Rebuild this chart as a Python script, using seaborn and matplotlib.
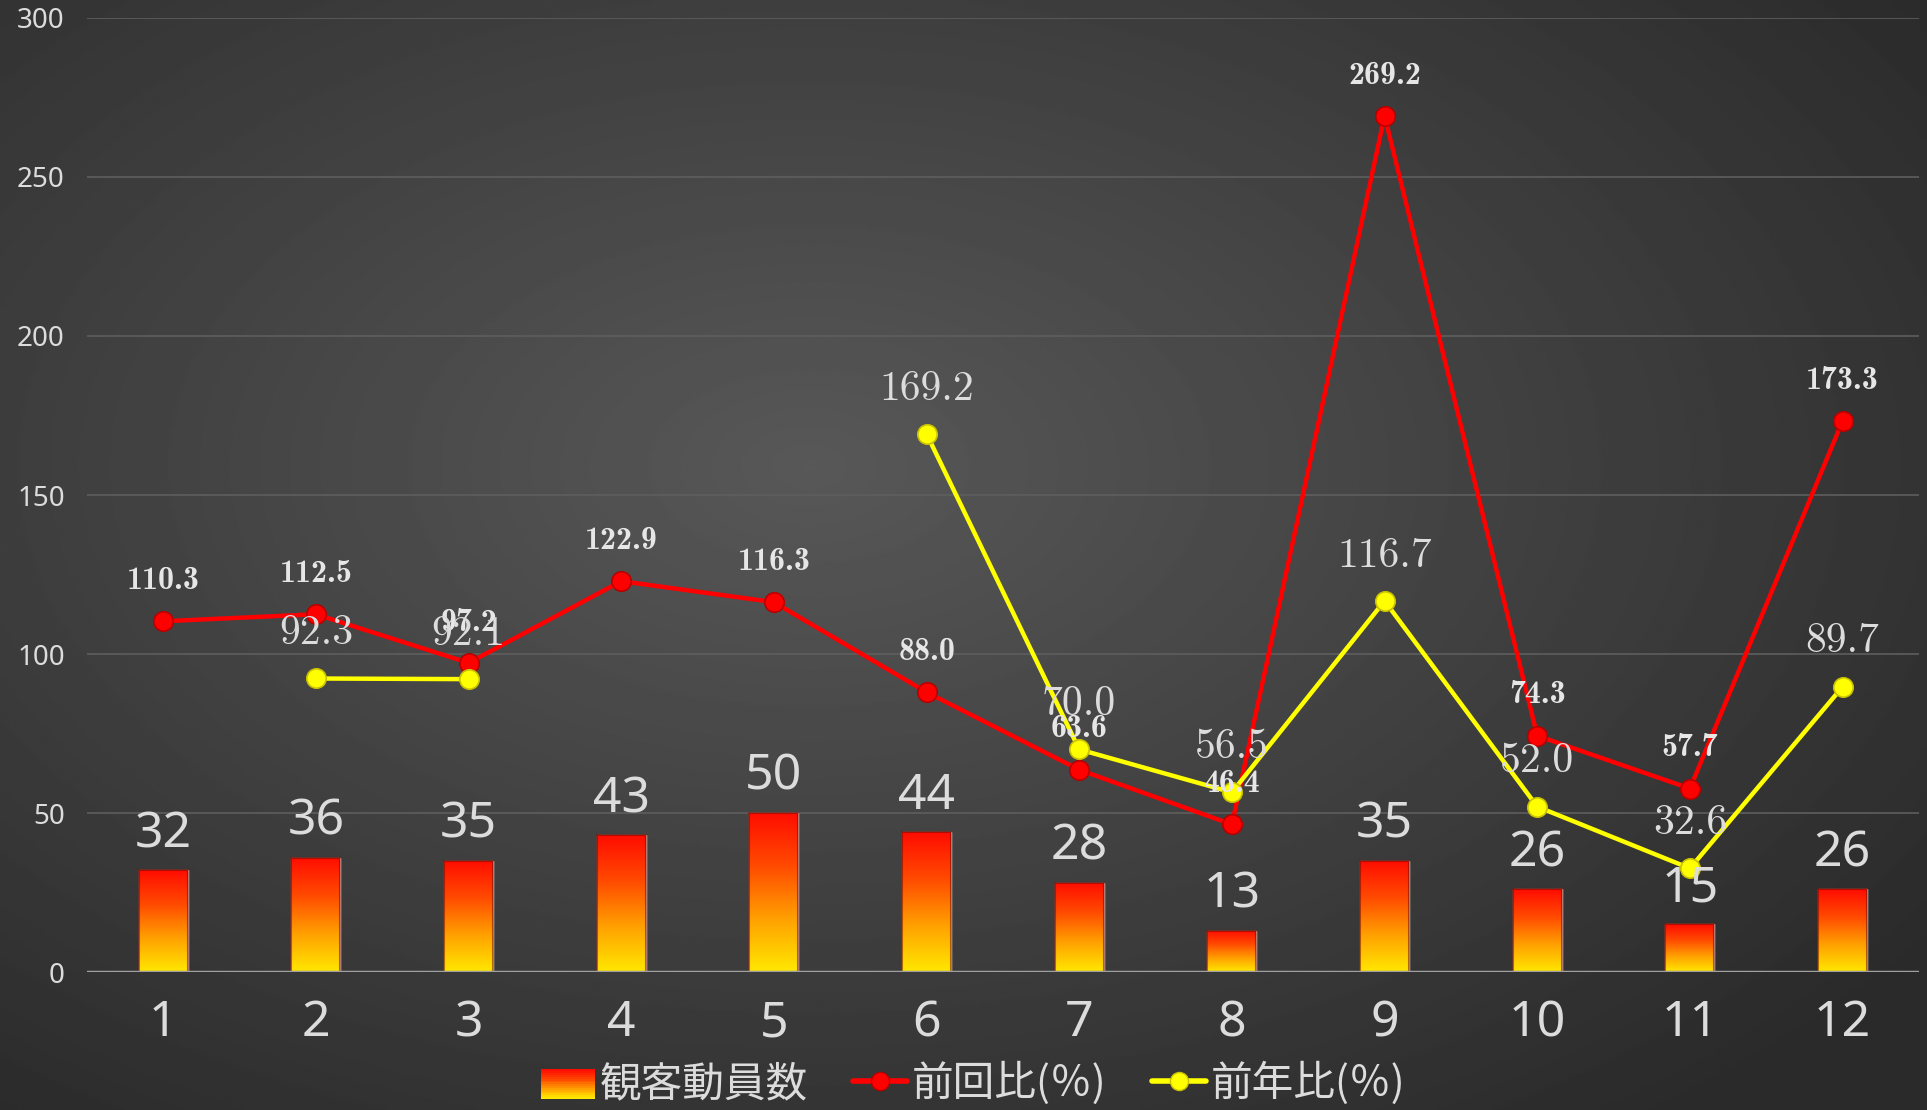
import numpy as np
import pandas as pd
import matplotlib
matplotlib.use('Agg')
import matplotlib.pyplot as plt
import seaborn as sns
from matplotlib.legend_handler import HandlerBase
from matplotlib.patches import Rectangle
from matplotlib.lines import Line2D
from matplotlib.colors import LinearSegmentedColormap

# 月ごとのデータ
months = [1, 2, 3, 4, 5, 6, 7, 8, 9, 10, 11, 12]
attendance = [32, 36, 35, 43, 50, 44, 28, 13, 35, 26, 15, 26]
prev_ratio = [110.3, 112.5, 97.2, 122.9, 116.3, 88.0, 63.6, 46.4, 269.2, 74.3, 57.7, 173.3]
yoy_ratio = [np.nan, 92.3, 92.1, np.nan, np.nan, 169.2, 70.0, 56.5, 116.7, 52.0, 32.6, 89.7]
legend_labels = ['観客動員数', '前回比(％)', '前年比(％)']
y_ticks = [0, 50, 100, 150, 200, 250, 300]

sns.set_theme(style='dark')
plt.rcParams['font.family'] = ['Noto Sans CJK JP', 'DejaVu Sans']

TXT = '#dcdcdc'
RED = '#ff0000'
YEL = '#ffff00'
NUM_FONT = ['Noto Sans', 'DejaVu Sans']

fig = plt.figure(figsize=(19.27, 11.10), dpi=100)

# 背景の放射グラデーション
bg = fig.add_axes([0, 0, 1, 1], zorder=0)
yy, xx = np.mgrid[0:1:400j, 0:1:700j]
r = np.sqrt(((xx - 0.42) / 0.72) ** 2 + ((yy - 0.42) / 0.75) ** 2)
shade = 0.345 - 0.18 * np.clip(r, 0, 1)
bg.imshow(shade, cmap='gray', vmin=0, vmax=1, extent=[0, 1, 0, 1],
          aspect='auto', origin='upper')
bg.axis('off')

ax = fig.add_axes([0.0451, 0.1243, 0.9507, 0.8595], zorder=1)
ax.patch.set_alpha(0)

# 棒グラフ（グラデーション）
df_bar = pd.DataFrame({'month': months, 'attendance': attendance})
sns.barplot(data=df_bar, x='month', y='attendance', width=0.32, color='#ff4000',
            ax=ax, zorder=3)
grad = LinearSegmentedColormap.from_list('g', ['#ffe800', '#ffa000', '#ff4a00', '#ff0c00'])
for p in list(ax.patches):
    x0, y0, w, h = p.get_x(), p.get_y(), p.get_width(), p.get_height()
    im = ax.imshow(np.linspace(0, 1, 256).reshape(-1, 1), cmap=grad,
                   extent=[x0, x0 + w, y0, y0 + h], origin='lower',
                   aspect='auto', zorder=3.5)
    im.set_clip_path(p)
    # 側面の陰影
    ax.add_patch(Rectangle((x0, y0), w, h, facecolor='none',
                           edgecolor=(0.45, 0.05, 0.0, 0.55), lw=1.5, zorder=3.6))

# 折れ線
df_line = pd.DataFrame({'x': range(len(months)), 'prev': prev_ratio, 'yoy': yoy_ratio})
df_line['seg'] = df_line['yoy'].isna().cumsum()
sns.lineplot(data=df_line, x='x', y='prev', color=RED, lw=3.2, marker='o',
             markersize=14, markeredgecolor='#b80000', markeredgewidth=1.2,
             ax=ax, zorder=5)
sns.lineplot(data=df_line.dropna(subset=['yoy']), x='x', y='yoy', units='seg',
             estimator=None, color=YEL, lw=3.2, marker='o', markersize=14,
             markeredgecolor='#c8c000', markeredgewidth=1.2, ax=ax, zorder=6)

# ラベル
for i, v in enumerate(attendance):
    ax.annotate(f'{v}', (i, v), xytext=(0, 8), textcoords='offset points',
                ha='center', va='bottom', fontsize=36, color=TXT,
                family=NUM_FONT, zorder=7)
for i, v in enumerate(prev_ratio):
    ax.annotate(f'{v:.1f}', (i, v), xytext=(0, 19), textcoords='offset points',
                ha='center', va='bottom', fontsize=23, color='#e6e6e6',
                family='cmb10', zorder=7)
for i, v in enumerate(yoy_ratio):
    if np.isnan(v):
        continue
    ax.annotate(f'{v:.1f}', (i, v), xytext=(0, 19), textcoords='offset points',
                ha='center', va='bottom', fontsize=30, color=TXT,
                family='cmr10', zorder=7)

ax.set_xlim(-0.5, len(months) - 0.5)
ax.set_ylim(0, 300)
ax.set_xticks(range(len(months)))
ax.set_xticklabels([str(m) for m in months], fontsize=36, color=TXT, family=NUM_FONT)
ax.set_yticks(y_ticks)
ax.set_yticklabels([str(t) for t in y_ticks], fontsize=20, color=TXT, family=NUM_FONT)
ax.tick_params(axis='x', length=0, pad=19)
ax.tick_params(axis='y', length=0, pad=16)
ax.set_xlabel('')
ax.set_ylabel('')
for s in ax.spines.values():
    s.set_visible(False)
ax.yaxis.grid(True, color='#5e5e5e', lw=1.2)
ax.xaxis.grid(False)
ax.set_axisbelow(True)
ax.axhline(0, color='#a0a0a0', lw=2.5, zorder=4)


class GradientHandler(HandlerBase):
    def create_artists(self, legend, orig_handle, xdescent, ydescent, width,
                       height, fontsize, trans):
        n = 16
        arts = []
        for k in range(n):
            arts.append(Rectangle((-xdescent, -ydescent + height * k / n - 2),
                                  width, height / n + 0.3,
                                  facecolor=grad(k / (n - 1)), edgecolor='none',
                                  transform=trans))
        return arts


bar_proxy = Rectangle((0, 0), 1, 1)
h_prev = Line2D([], [], color=RED, lw=4, marker='o', markersize=13,
                markeredgecolor='#b80000')
h_yoy = Line2D([], [], color=YEL, lw=4, marker='o', markersize=13,
               markeredgecolor='#c8c000')
fig.legend([bar_proxy, h_prev, h_yoy], legend_labels, loc='center',
           bbox_to_anchor=(0.505, 0.024), ncol=3, frameon=False, fontsize=30,
           labelcolor=TXT, handlelength=1.3, handletextpad=0.1,
           columnspacing=1.1, handler_map={bar_proxy: GradientHandler()})

fig.savefig('out.png', dpi=100)
